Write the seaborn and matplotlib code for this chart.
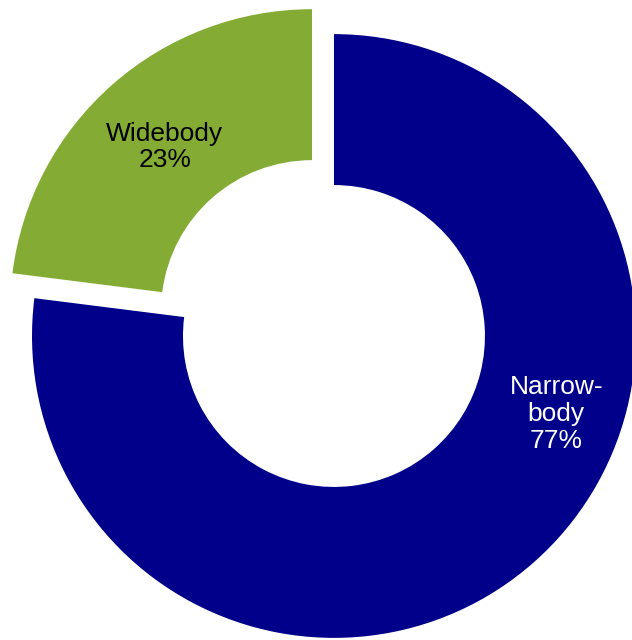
import matplotlib
matplotlib.use("Agg")
import matplotlib.pyplot as plt
import numpy as np
import seaborn as sns

# Fleet composition shares
segments = ["Narrow-\nbody", "Widebody"]
shares = [77, 23]
colors = ["#00008B", "#84AC34"]
label_colors = ["white", "black"]
explode = [0.0, 0.11]

sns.set_theme(style="white")
plt.rcParams["font.family"] = ["Liberation Sans", "DejaVu Sans"]

fig = plt.figure(figsize=(6.32, 6.40), dpi=100)
ax = fig.add_axes([0, 0, 1, 1])

wedges, _ = ax.pie(
    shares,
    colors=colors,
    explode=explode,
    startangle=90,
    counterclock=False,
    radius=1.0,
    wedgeprops=dict(width=0.5, linewidth=0),
)

# Label placement (polar: angle in degrees, radius) for each ring segment
label_angles = [-19.3, 131.9]
label_radii = [0.78, 0.73]
total = sum(shares)
for w, seg, val, ang, rad, col, ex in zip(wedges, segments, shares, label_angles,
                                         label_radii, label_colors, explode):
    mid = np.deg2rad((w.theta1 + w.theta2) / 2)
    ox, oy = ex * np.cos(mid), ex * np.sin(mid)
    a = np.deg2rad(ang)
    ax.text(rad * np.cos(a) + ox, rad * np.sin(a) + oy,
            f"{seg}\n{round(100 * val / total)}%",
            ha="center", va="center", color=col, fontsize=19,
            linespacing=1.15)

ax.set_aspect("auto")
ax.set_xlim(-1.106, 0.987)
ax.set_ylim(-1.007, 1.113)
ax.axis("off")

fig.savefig("out.png", dpi=100, facecolor="white")
